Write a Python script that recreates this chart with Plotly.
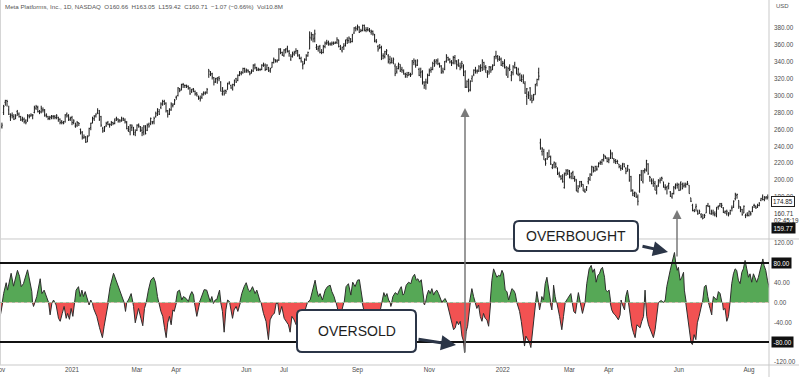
import plotly.graph_objects as go
import pandas as pd

# ---------------- data ----------------
open_ = [
 264,263,280,292,294,283,275,277,275,273,281,278,275,272,272,270,270,276,276,277,
 280,285,286,281,281,283,283,276,275,273,275,275,275,274,274,272,269,268,269,278,276,272,
 274,268,264,265,268,260,256,250,251,245,252,262,268,273,276,280,279,275,261,
 259,264,268,265,266,268,267,273,272,271,271,271,271,268,259,257,262,262,256,
 259,265,263,259,257,262,259,266,267,269,269,275,277,281,286,290,293,291,282,278,283,288,290,
 298,300,308,307,313,312,312,311,309,305,308,305,303,299,297,298,303,303,304,331,325,
 326,321,316,320,321,316,302,305,306,307,314,312,307,313,320,318,324,326,327,332,
 330,330,328,327,329,336,333,331,331,331,336,336,331,333,330,333,339,342,341,342,355,351,
 347,354,356,352,343,347,349,352,353,347,344,336,338,343,347,355,368,372,368,357,355,
 358,352,351,358,362,362,361,361,362,362,363,366,355,353,358,361,366,365,367,364,374,380,
 379,381,376,377,383,377,378,377,375,376,372,365,358,357,357,347,346,350,347,343,341,
 341,335,328,336,337,331,328,326,325,327,325,325,339,342,336,331,327,328,316,316,315,
 324,330,331,341,340,341,337,335,329,331,341,345,343,339,339,345,340,336,335,335,335,
 328,310,319,307,320,325,330,329,329,332,333,339,333,327,328,333,331,336,347,346,343,343,
 338,339,333,322,334,324,327,337,333,325,325,319,322,314,299,301,309,297,296,301,
 314,327,244,234,234,223,225,227,227,215,219,219,214,208,204,204,191,208,208,
 210,204,209,202,201,187,193,198,195,187,189,198,201,206,215,211,213,216,220,221,225,228,226,
 224,226,231,225,222,222,219,214,214,219,214,211,213,204,188,182,185,180,187,206,
 198,211,212,219,204,199,199,196,185,194,199,203,198,191,191,194,186,180,184,193,194,
 195,188,195,193,193,195,194,179,170,164,168,163,161,159,154,158,161,170,169,160,161,
 159,158,168,170,169,167,162,160,161,161,167,168,178,182,176,168,165,161,158,158,
 158,161,163,170,169,168,170,176,180,177,179,179,176,
]
high_ = [
 267,268,289,295,295,288,279,280,278,278,283,280,276,275,274,272,278,278,279,278,
 288,289,288,283,288,286,284,279,276,276,277,277,277,278,275,273,271,270,278,280,278,275,
 276,272,268,270,268,261,258,254,252,253,262,268,275,277,279,285,283,276,263,
 264,269,270,267,270,269,273,275,273,272,275,274,273,270,264,266,266,263,260,
 266,267,264,263,265,265,267,268,274,270,275,281,285,284,292,295,295,292,283,285,292,291,296,
 300,310,309,314,315,313,313,312,310,308,309,306,304,300,300,303,305,305,309,331,329,
 327,322,321,322,323,317,310,307,307,315,317,313,314,319,321,325,329,329,333,333,
 332,331,329,331,337,338,334,333,332,337,339,338,337,334,333,340,345,343,343,356,356,352,
 355,356,359,354,349,352,353,356,354,349,346,341,344,349,352,376,375,373,378,361,359,
 360,355,360,364,366,365,363,364,364,364,369,366,360,358,362,366,369,370,368,373,381,382,
 384,382,379,384,384,381,381,380,378,377,373,367,360,361,359,350,353,355,349,347,345,
 345,338,335,339,337,334,331,327,328,328,327,342,344,342,343,333,333,330,317,320,326,
 332,334,340,343,343,344,339,336,333,341,349,346,344,342,347,348,342,343,339,341,337,
 330,318,320,318,324,331,334,331,336,337,343,340,336,330,335,335,337,347,353,348,347,345,
 341,343,335,334,337,329,336,340,334,333,327,325,325,317,309,305,310,301,302,314,
 320,333,249,239,237,226,233,236,229,219,222,221,215,210,206,207,209,213,213,
 212,209,211,205,201,194,199,199,195,190,193,203,208,217,216,217,217,221,223,225,231,229,227,
 227,236,233,226,225,224,219,218,220,220,215,218,213,205,189,186,185,183,207,212,
 212,214,224,220,205,202,202,199,194,201,203,204,198,195,193,197,187,185,193,196,197,
 196,198,197,197,197,199,194,179,172,166,172,165,165,161,160,160,170,173,170,165,165,
 163,168,170,173,173,168,164,165,162,165,170,176,185,184,176,169,166,170,160,162,
 164,163,169,172,170,172,174,179,183,181,181,183,177,
]
low_ = [
 257,261,277,288,287,277,270,273,271,272,276,274,270,269,267,266,269,273,275,272,
 279,283,280,278,279,280,275,274,271,271,272,272,272,272,269,266,266,266,268,274,270,270,
 265,266,262,263,264,254,248,249,244,245,252,259,267,270,274,278,270,263,256,
 257,263,265,262,264,265,266,270,268,268,269,270,267,260,257,253,258,253,252,
 258,262,257,252,253,254,258,262,265,266,266,274,276,277,284,288,289,280,274,277,282,286,289,
 295,299,304,306,309,309,309,307,301,303,304,300,299,295,293,296,300,301,302,321,323,
 319,312,315,314,317,305,300,300,302,307,313,308,306,311,315,317,323,324,326,327,
 327,327,324,326,328,331,329,329,329,330,334,329,330,328,327,333,338,339,339,341,349,347,
 346,350,351,346,341,345,347,349,346,343,339,331,337,341,346,355,365,363,363,354,352,
 350,349,350,356,360,359,359,359,360,361,361,357,354,351,354,358,361,362,362,363,373,376,
 377,374,375,376,376,375,376,375,372,371,363,362,352,355,342,343,344,348,338,337,338,
 337,323,326,331,328,327,325,321,321,323,322,325,336,333,335,323,321,313,308,307,314,
 323,327,330,334,337,336,333,326,326,330,339,341,338,335,337,337,331,334,330,332,323,
 309,309,304,305,316,323,326,326,328,328,329,330,327,321,325,327,330,335,343,340,341,335,
 334,332,324,321,329,317,324,332,325,323,317,316,314,302,289,296,294,291,294,301,
 311,318,236,229,224,217,224,227,218,213,214,214,206,203,200,197,190,205,206,
 202,201,201,198,187,185,191,192,187,185,187,195,199,205,209,210,211,215,218,218,222,225,221,
 220,225,225,220,219,219,214,211,212,215,207,210,198,186,181,180,179,170,185,199,
 196,208,210,206,198,195,192,188,183,192,196,199,191,188,183,189,180,178,183,189,190,
 187,188,189,191,191,194,184,174,163,162,163,159,160,155,154,155,161,168,160,159,158,
 157,156,165,168,167,161,160,158,157,159,163,167,176,178,166,162,158,161,155,157,
 157,158,162,167,166,167,169,175,176,175,177,177,173,
]
close_ = [
 261,265,287,294,293,278,276,276,272,276,279,275,271,272,269,268,276,275,277,277,
 286,287,281,280,285,283,277,277,273,274,276,275,274,276,272,268,268,267,277,276,271,273,
 268,270,263,268,267,257,251,251,245,251,261,267,272,275,278,282,272,265,258,
 262,267,266,266,268,267,271,273,270,270,273,273,269,261,260,265,264,254,257,
 265,264,259,256,264,255,265,264,273,268,273,279,284,278,290,293,290,282,278,283,290,289,294,
 298,309,306,313,313,312,311,309,302,307,307,302,301,297,296,301,303,303,307,329,325,
 322,316,320,319,320,305,309,302,305,315,315,309,313,318,316,324,327,327,332,328,
 329,329,326,330,336,333,330,331,331,336,336,331,336,329,332,339,343,341,341,355,351,348,
 354,355,353,350,346,350,351,353,348,344,341,337,342,347,351,369,372,367,373,358,356,
 351,351,358,362,363,361,361,362,362,363,366,358,355,357,359,366,365,368,364,372,380,379,
 382,375,377,383,378,378,378,377,376,373,364,364,355,357,344,347,352,353,340,339,339,
 343,326,332,334,329,330,325,323,324,325,324,341,341,336,341,324,328,315,312,316,324,
 329,331,338,336,342,338,335,327,328,340,347,343,340,338,345,341,337,342,333,338,324,
 310,317,306,317,322,330,329,329,334,333,341,334,333,325,334,330,335,346,346,343,344,336,
 338,336,324,332,331,328,334,333,326,331,318,319,316,303,308,300,295,294,301,313,
 319,323,237,237,224,220,232,228,219,217,221,216,207,206,202,198,207,211,211,
 203,208,202,200,187,190,198,195,187,186,192,203,207,216,211,216,213,220,221,224,229,227,222,
 224,233,226,223,222,222,216,214,220,216,210,217,200,188,184,186,180,175,206,200,
 211,212,223,208,203,196,197,188,192,200,200,202,192,191,193,196,181,184,191,195,194,
 188,198,190,194,195,196,184,175,164,163,169,160,163,157,155,158,170,169,160,163,161,
 160,168,169,172,170,162,163,163,159,164,167,175,183,183,169,167,159,169,160,159,
 163,160,168,170,167,170,172,178,177,180,180,180,175,
]

# oscillator: position (bar number) and value of each vertex
osc_day = [
 0,1,2,3.5,4.3,6.4,7.8,10.1,11.3,12.3,13.6,16,17.2,18.5,18.9,19.5,20.3,21.4,23.4,24.4,25.7,27.3,28.3,29.2,30.2,31.2,32.7,34.1,35.1,36.3,37.4,38.6,39.4,40.5,41.5,42.5,43.3,44.4,45.8,46.8,47.8,48.7,49.7,50.7,51.3,52,53,54,54.6,56.5,58.1,59.1,59.8,60.8,62,62.8,64.3,66.3,67.8,69.2,70.6,71.7,72.5,73.3,74,75,76.6,77.6,78,79,80,80.9,82.3,83.4,84.4,85.4,86.7,88.1,89.7,90.8,92,92.8,94,95.1,96.1,97.1,98,99,100,101,101.8,102.7,103.7,104.9,106.2,107.2,108.8,110.1,111.1,112.1,
 113.1,113.6,115,116,117,118.5,119.3,120.8,121.8,122.8,123.8,124.7,125.7,126.7,128.3,129,130,131,132,133,134.1,134.9,135.9,136.8,138,139,140,141.3,142.7,143.9,145.2,146.2,147.6,149.1,150.1,151.5,152.6,154,155.5,156.9,157.9,159.3,160.4,161.4,162.4,163.3,164.7,166.1,167.2,168.6,169.6,170.6,171.9,173.1,174.5,175.6,176.7,177.8,178.8,179.7,181.3,182.8,184.2,185.2,186.2,187.1,188.5,190.1,191.4,193,194,195.3,196.5,197.5,198.6,199.7,201.2,202.3,203.7,205.1,206.2,207.6,209,210.1,210.9,211.7,213,214.5,216,217.5,219,220.5,221.8,223.2,224.4,
 225.2,226.2,227.2,228.1,228.5,229,229.7,231.1,232.4,233.6,234.6,235.6,236.3,237.5,238.9,240.2,241.2,242.4,243.4,244.3,245.3,246.3,247.3,247.6,248.2,248.8,249.6,250.6,251.5,252.5,253.5,254.5,255.4,256.4,257.4,258.4,259.3,260.3,261.3,262.3,263.2,264.2,265.2,266.2,267.1,268.1,269.1,270.1,271,271.6,272.6,273.4,274,274.5,275.9,276.9,277.9,278.8,279.8,280.8,281.8,282.7,283.7,284.7,285.7,286.6,287.6,288.6,289.6,290.5,291.5,292.5,293.5,294.4,295.4,296.4,297.4,298.3,299.3,300.3,301.3,302.2,303.8,304.8,305.7,306.7,307.5,308.5,309.6,310.4,311.4,312.4,313.1,313.9,314.9,315.5,316.3,316.8,317.8,318.8,319.8,320.7,321.7,322.7,323.2,323.7,324.6,325.6,327.2,328.5,329.5,330.5,331.9,333.8,334.6,335.5,336.5,337.3,338.2,339.3,340.6,342.1,
 343.1,344.5,345.7,346.6,347.6,348.6,349.6,350.5,351.5,352.3,353.5,354.2,355.2,356.2,356.8,357.7,358.7,359.7,360.7,361.6,362.6,362.9,363.2,363.5,364,365.2,365.6,365.9,366.9,367.5,368.5,369.4,370.4,371.4,372.4,373.3,374.3,375.3,376.3,376.8,377.2,377.6,378.2,379.2,380.7,382.1,383.1,384.1,385,386.6,388,389,389.9,390.9,391.9,392.8,393.8,394.4,395.2,396,396.7,397.7,398.7,399.7,400.2,401,402.2,403.2,404.1,404.9,405.9,406.9,407.8,408.8,409.8,410.8,411.9,412.9,413.9,414.3,415.2,416.2,416.7,417.2,419.1,420.1,421.1,422.1,422.5,423,424,425,426,426.9,427.9,428.9,429.9,430.8,431.8,432.8,433.8,434.7,435.7,436.7,437.7,438.6,439.6,440.6,441.6,442.5,443.5,444.5,445.5,446.1,446.8,447.8,448.8,449.4,450,
]
osc_val = [
 -28,0,18,40,25,59,33,65,53,32,38,66,48,22,0,-8,0,12,48,18,25,8,0,-25,-2,5,-5,-32,-38,-22,-8,-32,-22,-34,-12,-28,0,25,32,12,25,12,22,8,0,-5,5,-2,-12,-28,-51,-61,-71,-48,-22,0,32,59,45,35,22,8,0,-18,0,5,18,0,-8,-41,-22,-12,-32,-47,-12,0,25,45,51,41,12,0,-18,-28,-51,-71,-41,-28,-45,-15,-18,0,22,25,5,12,8,2,15,22,
 15,0,-28,-5,5,22,26,25,15,2,12,-2,5,6,25,0,-18,-60,-15,5,2,-12,-32,-15,-8,-18,-2,18,32,40,25,22,32,18,25,12,0,-22,-38,-75,-35,-25,-22,-2,-2,-25,-8,-32,-38,-45,-60,-28,-35,-45,-30,-18,-35,-22,-10,0,5,25,45,25,12,18,5,25,32,35,22,12,0,-15,-28,-18,0,32,38,15,41,32,45,46,22,0,-20,-35,-25,-42,-30,-18,-25,0,20,
 12,18,5,0,-8,0,12,20,16,26,32,15,18,35,41,38,51,57,45,48,41,46,15,0,-5,0,15,25,18,28,15,22,25,18,8,0,5,8,0,-15,-28,-41,-55,-51,-38,-45,-38,-68,-78,-101,-58,-48,-28,0,28,12,0,-12,-5,-28,-38,-22,-32,-35,-48,0,45,68,58,51,55,53,65,58,25,22,5,18,28,25,18,0,-18,-38,-58,-88,-68,-75,-81,-91,-55,-22,0,22,0,-15,0,12,5,38,51,28,0,-15,0,35,12,0,-28,-55,-28,0,8,18,0,-18,-22,0,20,0,-22,0,
 38,68,75,61,68,41,55,58,68,71,51,25,22,25,0,-15,-22,-25,-32,-35,-25,0,5,0,-5,-15,0,12,25,0,-28,-48,-61,-71,-45,-48,-51,-38,-28,0,25,0,-28,-45,-61,-71,-55,-22,0,4,0,5,32,51,65,78,91,101,78,65,71,45,51,61,25,0,-28,-55,-81,-85,-65,-75,-41,-28,-15,0,32,35,12,0,-12,-25,0,12,5,22,18,5,0,-15,-12,-38,-28,0,38,58,68,65,45,38,61,68,85,68,51,58,41,58,48,41,51,68,78,88,75,65,45,32,28,
]

holidays = ["2020-11-26", "2020-12-25", "2021-01-01", "2021-01-18", "2021-02-15",
            "2021-04-02", "2021-05-31", "2021-07-05", "2021-09-06", "2021-11-25",
            "2021-12-24", "2022-01-17", "2022-02-21", "2022-04-15", "2022-05-30",
            "2022-06-20", "2022-07-04"]
month_starts = ["2020-11-02", "2021-01-04", "2021-03-01", "2021-04-01", "2021-06-01",
                "2021-07-01", "2021-09-01", "2021-11-01", "2022-01-03", "2022-03-01",
                "2022-04-01", "2022-06-01", "2022-08-01"]
month_labels = ["Nov", "2021", "Mar", "Apr", "Jun", "Jul", "Sep", "Nov", "2022",
                "Mar", "Apr", "Jun", "Aug"]
price_ticks = [180, 200, 220, 240, 260, 280, 300, 320, 340, 360, 380]
osc_ticks = [120, 40, 0, -40, -120]
levels = [80, -80]
last_close = 174.85
live_price = 160.71
marker_price = 159.77
header = ("Meta Platforms, Inc., 1D, NASDAQ  O160.66  H163.05  L159.42  C160.71  "
          "\u22121.07 (\u22120.66%)  Vol10.8M")

# ---------------- build ----------------
dates = [d.strftime("%Y-%m-%d") for d in pd.bdate_range("2020-11-02", "2022-08-17")
         if d.strftime("%Y-%m-%d") not in holidays]
n = min(len(dates), len(close_), len(open_), len(high_), len(low_))
bar_x = list(range(n))
tick_pos = [dates.index(d) for d in month_starts]

W, H = 799, 377
ML, MR, MT, MB = 0, 30, 0, 12
PW, PH = W - ML - MR, H - MT - MB
SEP = 0.34521     # pane split (paper)
ZERO = 0.17123    # zero line of oscillator pane (paper)
X0, X1 = -0.115, 449.7

def px(x):
    return x / PW

def py(y):
    return (PH - y) / PH

GREEN = "#56a856"
RED = "#f25252"
EDGE = "#2e2e2e"
NAVY = "#2b3547"

fig = go.Figure()
fig.add_trace(go.Ohlc(
    x=bar_x, open=open_[:n], high=high_[:n], low=low_[:n], close=close_[:n],
    increasing=dict(line=dict(color="#1c1c1c", width=1)),
    decreasing=dict(line=dict(color="#1c1c1c", width=1)),
    tickwidth=0.45, hoverinfo="skip", yaxis="y"))
fig.add_trace(go.Scatter(
    x=osc_day, y=osc_val, mode="lines", fill="tozeroy", fillcolor=GREEN,
    line=dict(color=EDGE, width=1), hoverinfo="skip", yaxis="y3"))
fig.add_trace(go.Scatter(
    x=osc_day, y=osc_val, mode="lines", fill="tozeroy", fillcolor=RED,
    line=dict(color=EDGE, width=1), hoverinfo="skip", yaxis="y4"))

axis_font = dict(family="Liberation Sans, Arial, sans-serif", size=6.3, color="#4d4d4d")
fig.update_layout(
    width=W, height=H,
    margin=dict(l=ML, r=MR, t=MT, b=MB),
    paper_bgcolor="white", plot_bgcolor="rgba(0,0,0,0)",
    showlegend=False,
    font=axis_font,
    xaxis=dict(range=[X0, X1], domain=[0, 1], anchor="free", position=0,
               tickmode="array", tickvals=tick_pos, ticktext=month_labels,
               showgrid=False, zeroline=False, showline=False, ticks="",
               tickfont=axis_font, rangeslider=dict(visible=False), fixedrange=True),
    yaxis=dict(domain=[SEP, 1], range=[130.3, 413.1], side="right", anchor="x",
               tickmode="array", tickvals=price_ticks,
               ticktext=[f"{v:.2f}" for v in price_ticks],
               showgrid=False, zeroline=False, showline=False, ticks="",
               ticklabelstandoff=4, tickfont=axis_font, fixedrange=True),
    yaxis2=dict(domain=[0, SEP], range=[-126.3, 128.3], side="right", anchor="x",
                tickmode="array", tickvals=osc_ticks,
                ticktext=[f"{v:.2f}" for v in osc_ticks],
                showgrid=False, zeroline=False, showline=False, ticks="",
                ticklabelstandoff=4, tickfont=axis_font, fixedrange=True),
    yaxis3=dict(domain=[ZERO, SEP], range=[0, 128.3], anchor="x", visible=False,
                fixedrange=True),
    yaxis4=dict(domain=[0, ZERO], range=[-126.3, 0], anchor="x", visible=False,
                fixedrange=True),
)

shapes = []
# frame / separators
shapes.append(dict(type="line", xref="paper", yref="paper", x0=0, x1=W / PW,
                   y0=SEP, y1=SEP, line=dict(color="#c9c9c9", width=1)))
shapes.append(dict(type="line", xref="paper", yref="paper", x0=0, x1=W / PW,
                   y0=0, y1=0, line=dict(color="#c9c9c9", width=1)))
shapes.append(dict(type="line", xref="paper", yref="paper", x0=1, x1=1,
                   y0=py(H), y1=1, line=dict(color="#c9c9c9", width=1)))
shapes.append(dict(type="line", xref="paper", yref="paper", x0=0.0006, x1=0.0006,
                   y0=0, y1=1, line=dict(color="#d4d4d4", width=1)))
# zero line and levels
shapes.append(dict(type="line", xref="paper", yref="y2", x0=0, x1=1, y0=0, y1=0,
                   line=dict(color="#9dbb9d", width=1, dash="dot")))
for lv in levels:
    shapes.append(dict(type="line", xref="paper", yref="y2", x0=0, x1=1, y0=lv, y1=lv,
                       line=dict(color="#111111", width=2)))

def rounded_box(x0, y0, x1, y1, r=5):
    A0, A1 = px(x0), px(x1)
    B0, B1 = py(y1), py(y0)  # bottom, top in paper
    rx, ry = r / PW, r / PH
    path = (f"M {A0+rx},{B1} L {A1-rx},{B1} Q {A1},{B1} {A1},{B1-ry} "
            f"L {A1},{B0+ry} Q {A1},{B0} {A1-rx},{B0} L {A0+rx},{B0} "
            f"Q {A0},{B0} {A0},{B0+ry} L {A0},{B1-ry} Q {A0},{B1} {A0+rx},{B1} Z")
    return dict(type="path", xref="paper", yref="paper", path=path,
                fillcolor="white", line=dict(color=NAVY, width=2), layer="above")

shapes.append(rounded_box(514, 221, 638, 251))
shapes.append(rounded_box(297, 310, 416, 352))
fig.update_layout(shapes=shapes)

ann = []
ann.append(dict(xref="paper", yref="paper", x=px(3), y=py(6), xanchor="left",
                yanchor="middle", text=header, showarrow=False,
                font=dict(family="Liberation Sans, Arial", size=6.2, color="#555555")))
ann.append(dict(xref="paper", yref="paper", x=px(774), y=py(6), xanchor="left",
                yanchor="middle", text="USD", showarrow=False,
                font=dict(family="Liberation Sans, Arial", size=6, color="#555555")))
# first month label, half cut off at the left edge
ann.append(dict(xref="x", yref="paper", x=tick_pos[0], y=py(369.5), xanchor="center",
                yanchor="middle", text=month_labels[0], showarrow=False,
                font=axis_font))
ann.append(dict(xref="paper", yref="paper", x=px(576), y=py(236), text="OVERBOUGHT",
                xanchor="center", yanchor="middle", showarrow=False,
                font=dict(family="Liberation Sans, Arial", size=14, color="#1e1e1e")))
ann.append(dict(xref="paper", yref="paper", x=px(356.5), y=py(331), text="OVERSOLD",
                xanchor="center", yanchor="middle", showarrow=False,
                font=dict(family="Liberation Sans, Arial", size=14, color="#1e1e1e")))
# dark arrows from the boxes
ann.append(dict(xref="paper", yref="paper", x=px(668), y=py(252), ax=-27, ay=-6,
                axref="pixel", ayref="pixel", text="", showarrow=True,
                arrowhead=2, arrowsize=1, arrowwidth=3, arrowcolor=NAVY))
ann.append(dict(xref="paper", yref="paper", x=px(456), y=py(345), ax=-39, ay=-6,
                axref="pixel", ayref="pixel", text="", showarrow=True,
                arrowhead=2, arrowsize=1, arrowwidth=3, arrowcolor=NAVY))
# grey vertical arrows to price
ann.append(dict(xref="paper", yref="paper", x=px(465), y=py(108), ax=0, ay=246,
                axref="pixel", ayref="pixel", text="", showarrow=True,
                arrowhead=2, arrowsize=1.2, arrowwidth=1.5, arrowcolor="#7a7a7a"))
ann.append(dict(xref="paper", yref="paper", x=px(677), y=py(210), ax=0, ay=48,
                axref="pixel", ayref="pixel", text="", showarrow=True,
                arrowhead=2, arrowsize=1.2, arrowwidth=1.5, arrowcolor="#7a7a7a"))
# right-scale labels
lab_font = dict(family="Liberation Sans, Arial", size=6.3, color="white")
for lv in levels:
    ann.append(dict(xref="paper", yref="y2", x=1, y=lv, xanchor="left", yanchor="middle",
                    xshift=2, text=f"{lv:.2f}", showarrow=False, bgcolor="#111111",
                    borderpad=1.5, font=lab_font))
ann.append(dict(xref="paper", yref="y", x=1, y=last_close, xanchor="left",
                yanchor="middle", xshift=2, text=f"{last_close:.2f}", showarrow=False,
                bgcolor="white", bordercolor="#222222", borderwidth=1, borderpad=1,
                font=dict(family="Liberation Sans, Arial", size=6.3, color="#222222")))
ann.append(dict(xref="paper", yref="y", x=1, y=live_price, xanchor="left",
                yanchor="middle", xshift=3, text=f"{live_price:.2f}", showarrow=False,
                font=dict(family="Liberation Sans, Arial", size=6.3, color="#333333")))
ann.append(dict(xref="paper", yref="y", x=1, y=live_price, xanchor="left",
                yanchor="middle", xshift=3, yshift=-7, text="02:45:19", showarrow=False,
                font=dict(family="Liberation Sans, Arial", size=6.3, color="#333333")))
ann.append(dict(xref="paper", yref="y", x=1, y=marker_price, xanchor="left",
                yanchor="middle", xshift=2, yshift=-14, text=f"{marker_price:.2f}",
                showarrow=False, bgcolor="#111111", borderpad=1.5, font=lab_font))
fig.update_layout(annotations=ann)

fig.write_html("out.html",
               config={"displayModeBar": False},
               post_script="document.body.style.margin='0';"
                           "document.body.style.overflow='hidden';")
